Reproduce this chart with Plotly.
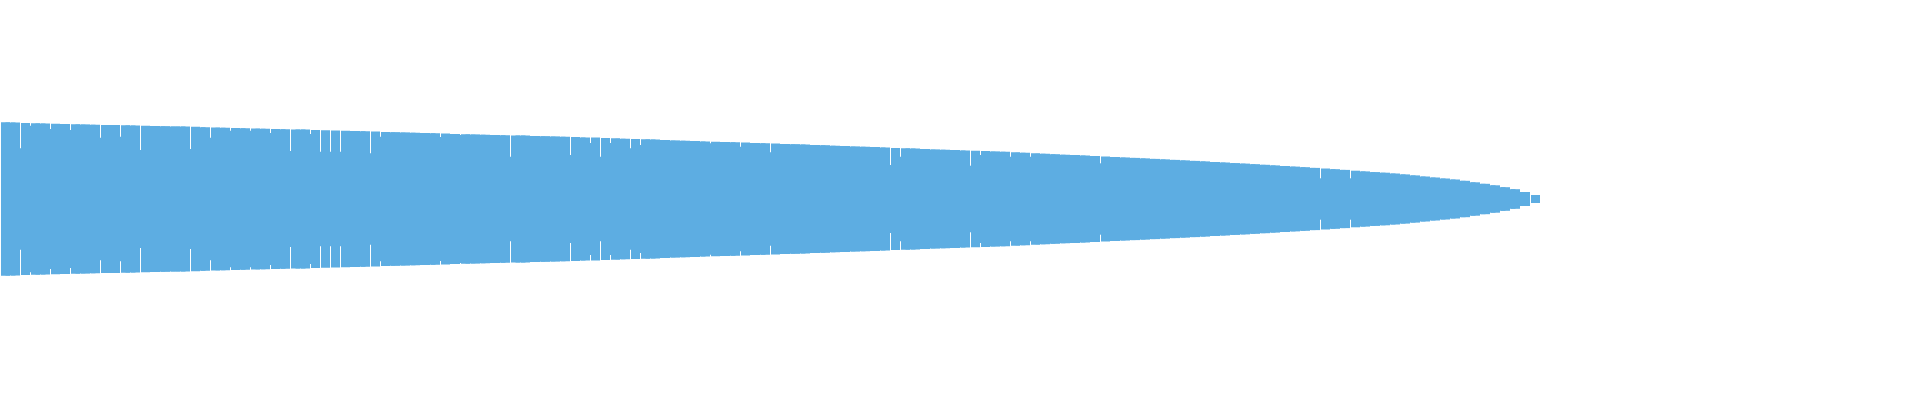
import plotly.graph_objects as go

BLUE = "#5DADE2"

# half height of each column, left to right
amp = [
    76.7, 76.5, 75.9, 75.7, 75.5, 75.2, 74.9, 74.7, 74.5, 74.3,
    74.1, 74.0, 73.8, 73.6, 73.3, 73.0, 72.8, 72.6, 72.4, 72.2,
    71.8, 71.6, 71.2, 70.9, 70.7, 70.5, 70.2, 70.0, 69.8, 69.6,
    69.4, 69.1, 68.8, 68.6, 68.3, 68.0, 67.7, 67.4, 67.1, 66.8,
    66.5, 66.2, 66.0, 65.7, 65.4, 65.1, 64.8, 64.5, 64.3, 64.0,
    63.8, 63.6, 63.4, 63.1, 62.8, 62.5, 62.2, 61.9, 61.6, 61.4,
    61.0, 60.7, 60.3, 60.0, 59.8, 59.4, 59.0, 58.6, 58.3, 58.0,
    57.6, 57.3, 57.0, 56.7, 56.4, 56.0, 55.7, 55.4, 55.0, 54.7,
    54.4, 54.0, 53.7, 53.3, 53.0, 52.6, 52.3, 51.9, 51.5, 51.1,
    50.7, 50.4, 50.0, 49.6, 49.3, 49.0, 48.6, 48.3, 48.0, 47.6,
    47.2, 46.7, 46.2, 45.7, 45.2, 44.8, 44.3, 43.9, 43.4, 43.0,
    42.5, 42.0, 41.5, 41.1, 40.6, 40.1, 39.6, 39.1, 38.6, 38.1,
    37.6, 37.0, 36.5, 35.9, 35.4, 34.8, 34.2, 33.6, 33.0, 32.4,
    31.8, 31.1, 30.5, 29.8, 29.1, 28.3, 27.6, 26.9, 26.3, 25.5,
    24.6, 23.6, 22.5, 21.5, 20.5, 19.5, 18.2, 16.7, 15.2, 13.7,
    11.8, 9.8, 7.0, 4.0,
]

# columns followed by a break in the outline, and how deep the break goes
gap_after = [1, 2, 4, 6, 9, 11, 13, 18, 20, 22,
             24, 26, 28, 30, 31, 32, 33, 36, 37, 43,
             45, 50, 56, 58, 59, 60, 62, 63, 70, 73,
             76, 88, 89, 96, 97, 100, 102, 109, 131, 134,
             152]
gap_floor = [50.8, 73.3, 70, 69, 61.3, 62.3, 49, 50, 61.3, 68.3,
             68.3, 66, 48, 65, 47.3, 47.3, 47.3, 45.7, 62.3, 62,
             64, 42.3, 44, 56, 42.3, 56, 50.7, 54, 55.7, 52.3,
             46.7, 34, 42.3, 33.3, 44, 42.3, 42.3, 35.7, 20.7, 20.7,
             0]

n = len(amp)
cols = list(range(n))

# inner layer that fills the seams between columns
inner = [min(amp[i], amp[i + 1]) for i in range(n - 1)]
for k, f in zip(gap_after, gap_floor):
    inner[k] = min(f, inner[k])

fig = go.Figure()
fig.add_trace(go.Bar(
    x=cols[:-1], y=[2 * v for v in inner], base=[-v for v in inner],
    offset=0, width=1, marker=dict(color=BLUE, line=dict(width=0)),
    hoverinfo="skip",
))
fig.add_trace(go.Bar(
    x=cols, y=[2 * v for v in amp], base=[-v for v in amp],
    width=0.9, marker=dict(color=BLUE, line=dict(width=0)),
))

fig.update_layout(
    barmode="overlay",
    width=1920, height=400,
    margin=dict(l=0, r=0, t=0, b=0),
    paper_bgcolor="white", plot_bgcolor="white",
    showlegend=False,
    xaxis=dict(visible=False, range=[-0.55, 191.45]),
    yaxis=dict(visible=False, range=[-201, 199]),
)

# page body has a default margin, drop it so the chart sits at 0,0
fig.write_html(
    "out.html",
    config={"displayModeBar": False},
    post_script="document.body.style.margin='0';document.body.style.overflow='hidden';",
)
